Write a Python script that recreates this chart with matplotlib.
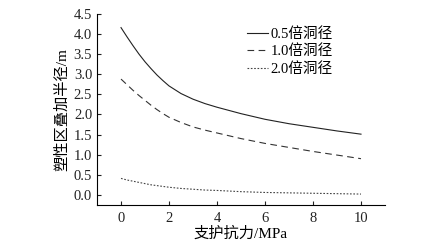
import matplotlib
matplotlib.use('Agg')
import matplotlib.pyplot as plt

plt.rcParams['font.family'] = ['Liberation Serif', 'Noto Sans CJK SC']

# support pressure (MPa) and overlapping plastic zone radius (m)
p = [0, 0.25, 0.5, 0.75, 1, 1.25, 1.5, 1.75, 2, 2.5, 3, 3.5, 4, 5, 6, 7, 8, 9, 10]
r_05 = [4.16, 3.93, 3.71, 3.50, 3.31, 3.14, 2.98, 2.84, 2.71, 2.52, 2.38, 2.27, 2.18,
        2.02, 1.88, 1.77, 1.68, 1.59, 1.51]
r_10 = [2.88, 2.74, 2.60, 2.47, 2.35, 2.23, 2.12, 2.02, 1.93, 1.80, 1.69, 1.61, 1.54,
        1.40, 1.28, 1.18, 1.08, 0.99, 0.90]
r_20 = [0.41, 0.37, 0.34, 0.31, 0.28, 0.25, 0.23, 0.21, 0.19, 0.16, 0.14, 0.12, 0.11,
        0.08, 0.06, 0.05, 0.04, 0.03, 0.02]
labels = ['0.5倍洞径', '1.0倍洞径', '2.0倍洞径']

fig = plt.figure(figsize=(4.41, 2.49), dpi=100)
ax = fig.add_axes([0.22, 0.177, 0.653, 0.767])

ax.plot(p, r_05, color='#222222', lw=0.8, ls='-', label=labels[0])
ax.plot(p, r_10, color='#333333', lw=0.8, ls=(0, (6, 4)), label=labels[1])
ax.plot(p, r_20, color='#444444', lw=0.8, ls=(0, (1.5, 1.5)), label=labels[2])

ax.set_xlim(-1, 11)
ax.set_ylim(-0.25, 4.5)
ax.set_xticks([0, 2, 4, 6, 8, 10])
ax.set_yticks([0, 0.5, 1, 1.5, 2, 2.5, 3, 3.5, 4, 4.5])
ax.set_yticklabels(['0.0', '0.5', '1.0', '1.5', '2.0', '2.5', '3.0', '3.5', '4.0', '4.5'])
ax.tick_params(direction='in', length=3, width=0.8, labelsize=10.5, colors='#222222')
ax.tick_params(axis='x', pad=5)
for s in ['top', 'right']:
    ax.spines[s].set_visible(False)
for s in ['left', 'bottom']:
    ax.spines[s].set_linewidth(0.8)

ax.set_xlabel('支护抗力/MPa', fontsize=11, labelpad=1)
ax.set_ylabel('塑性区叠加半径/m', fontsize=11, labelpad=3)

ax.legend(loc='upper right', bbox_to_anchor=(0.865, 1.0), frameon=False, fontsize=10.5,
          handlelength=1.4, handletextpad=0.2, labelspacing=0.25)

fig.savefig('out.png', dpi=100)
